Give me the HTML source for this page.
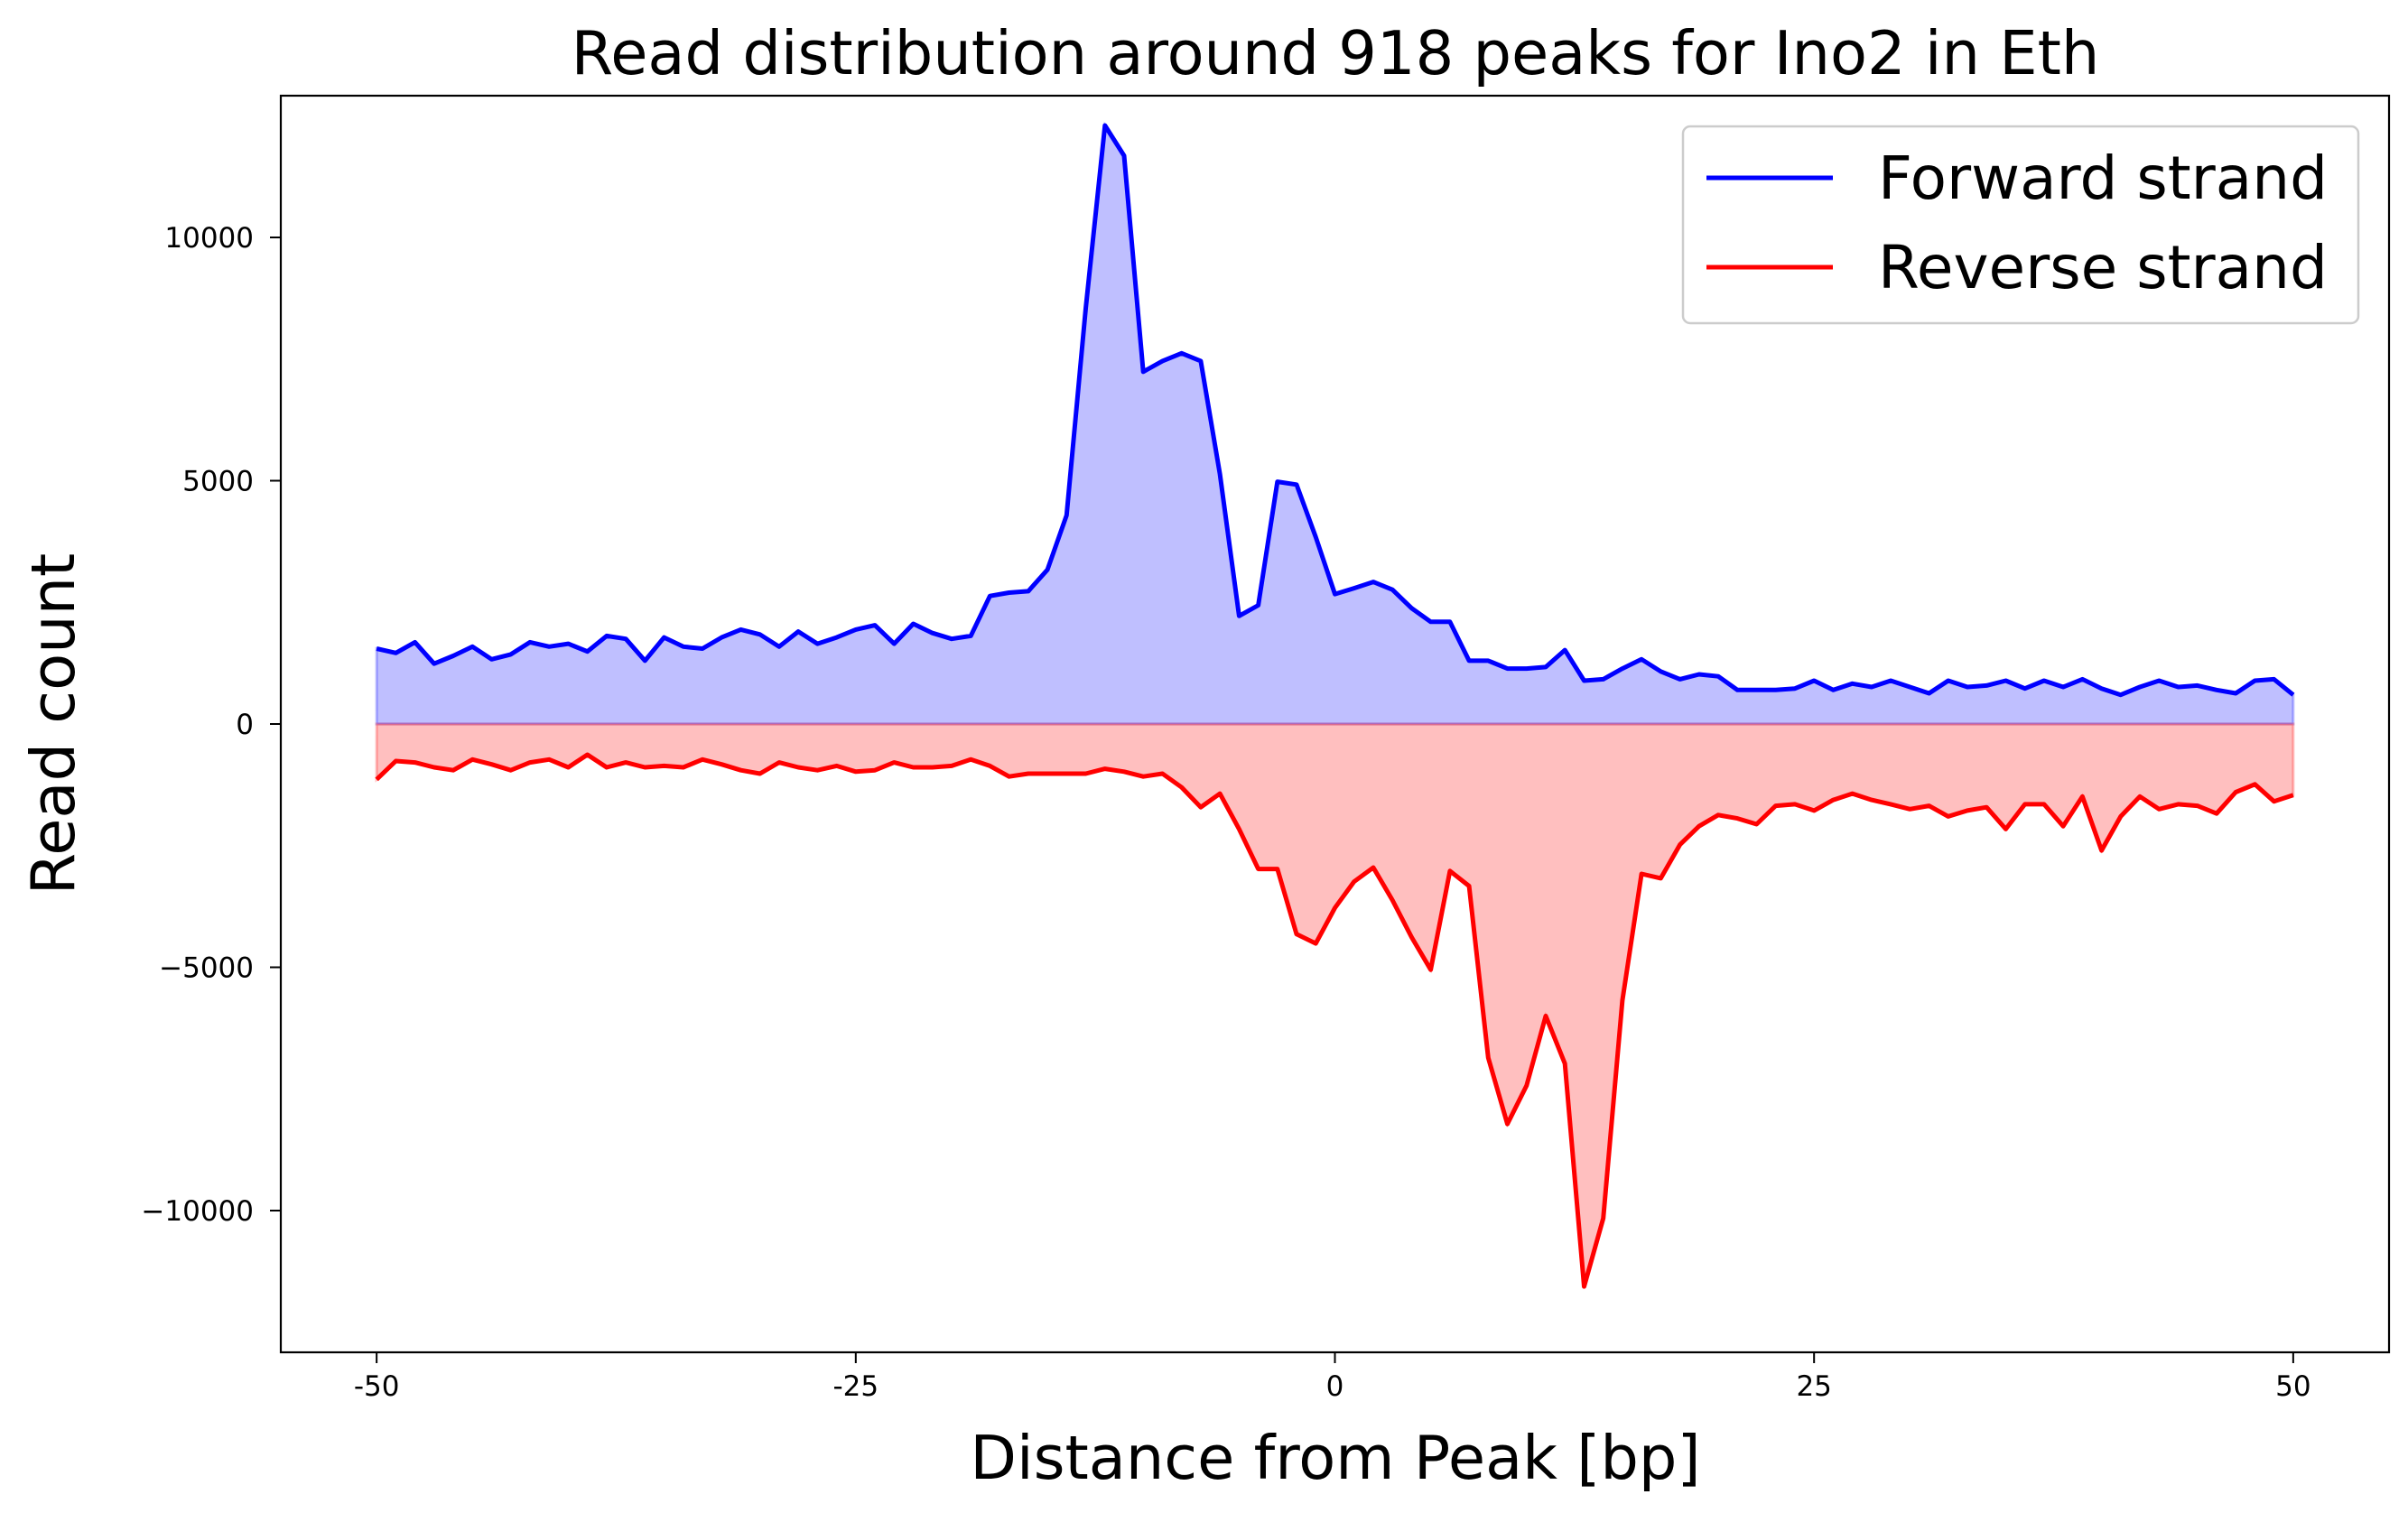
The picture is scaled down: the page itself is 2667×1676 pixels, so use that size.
<!DOCTYPE html>
<html><head><meta charset="utf-8"><style>
html,body{margin:0;padding:0;background:#fff;}
svg{display:block;font-family:"DejaVu Sans","Liberation Sans",sans-serif;}
</style></head><body>
<svg id="chart" width="2667" height="1676" viewBox="0 0 2667 1676" xmlns="http://www.w3.org/2000/svg">
<rect width="2667" height="1676" fill="#fff"/>
<text x="1479" y="82" font-size="67" text-anchor="middle" fill="#000">Read distribution around 918 peaks for Ino2 in Eth</text>
<g id="plot"></g>
<rect x="311" y="106" width="2335" height="1392" fill="none" stroke="#000" stroke-width="2.2"/>
<g id="ticks"></g>
<text x="1479" y="1638" font-size="67" text-anchor="middle">Distance from Peak [bp]</text>
<text transform="translate(82,802) rotate(-90)" font-size="67" text-anchor="middle">Read count</text>
<g>
<rect x="1864" y="140" width="748" height="218" rx="8" fill="#fff" fill-opacity="0.8" stroke="#ccc" stroke-width="2.5"/>
<line x1="1890" y1="197" x2="2030" y2="197" stroke="#0000ff" stroke-width="5"/>
<text x="2080" y="220" font-size="66">Forward strand</text>
<line x1="1890" y1="296" x2="2030" y2="296" stroke="#ff0000" stroke-width="5"/>
<text x="2080" y="319" font-size="66">Reverse strand</text>
</g>
</svg>
<script>
const positions = [-50,-49,-48,-47,-46,-45,-44,-43,-42,-41,-40,-39,-38,-37,-36,-35,-34,-33,-32,-31,-30,-29,-28,-27,-26,-25,-24,-23,-22,-21,-20,-19,-18,-17,-16,-15,-14,-13,-12,-11,-10,-9,-8,-7,-6,-5,-4,-3,-2,-1,0,1,2,3,4,5,6,7,8,9,10,11,12,13,14,15,16,17,18,19,20,21,22,23,24,25,26,27,28,29,30,31,32,33,34,35,36,37,38,39,40,41,42,43,44,45,46,47,48,49,50];
const forwardCounts = [1550,1460,1680,1240,1400,1590,1330,1430,1680,1590,1650,1490,1810,1750,1300,1780,1590,1550,1780,1940,1840,1590,1900,1650,1780,1940,2030,1650,2060,1870,1750,1810,2630,2700,2730,3170,4290,8540,12300,11680,7240,7460,7620,7460,5140,2220,2440,4980,4920,3840,2670,2790,2920,2760,2380,2100,2100,1300,1300,1140,1140,1170,1520,890,920,1140,1330,1080,920,1020,980,700,700,700,730,890,700,830,760,890,760,630,890,760,790,890,730,890,760,920,730,600,760,890,760,790,700,630,890,920,600];
const reverseCounts = [-1140,-760,-790,-890,-950,-730,-830,-950,-790,-730,-890,-630,-890,-790,-890,-860,-890,-730,-830,-950,-1020,-790,-890,-950,-860,-980,-950,-790,-890,-890,-860,-730,-860,-1080,-1020,-1020,-1020,-1020,-920,-980,-1080,-1020,-1300,-1710,-1430,-2160,-2980,-2980,-4320,-4510,-3780,-3240,-2950,-3620,-4380,-5050,-3020,-3330,-6860,-8220,-7430,-6000,-6980,-11560,-10160,-5680,-3080,-3170,-2480,-2100,-1870,-1940,-2060,-1680,-1650,-1780,-1560,-1430,-1560,-1650,-1750,-1680,-1900,-1780,-1710,-2160,-1650,-1650,-2100,-1490,-2600,-1900,-1490,-1750,-1650,-1680,-1840,-1400,-1240,-1590,-1460];
const xTicks = [-50,-25,0,25,50];
const xTickLabels = ["-50","-25","0","25","50"];
const yTicks = [-10000,-5000,0,5000,10000];
const yTickLabels = ["\u221210000","\u22125000","0","5000","10000"];

const NS="http://www.w3.org/2000/svg";
const X0=311,X1=2646,Y0=106,Y1=1498;
const xMin=-55,xMax=55,yMin=-12913,yMax=12913;
const sx=v=>X0+(v-xMin)/(xMax-xMin)*(X1-X0);
const sy=v=>Y1-(v-yMin)/(yMax-yMin)*(Y1-Y0);
function mk(tag,attrs,parent){const e=document.createElementNS(NS,tag);for(const k in attrs)e.setAttribute(k,attrs[k]);parent.appendChild(e);return e;}
const plot=document.getElementById('plot');
function series(vals,color,fill,nm){
  let pts=positions.map((p,i)=>sx(p).toFixed(1)+","+sy(vals[i]).toFixed(1));
  let area="M"+sx(positions[0])+","+sy(0)+" L"+pts.join(" L")+" L"+sx(positions[positions.length-1])+","+sy(0)+" Z";
  const a=mk('path',{d:area,fill:fill,'fill-opacity':0.25,stroke:fill,'stroke-opacity':0.25,'stroke-width':3},plot);
  
  
  const l=mk('polyline',{points:pts.join(" "),fill:'none',stroke:color,'stroke-width':5,'stroke-linejoin':'round'},plot);
  
  
}
series(forwardCounts,'#0000ff','#0000ff','forward-strand');
series(reverseCounts,'#ff0000','#ff0000','reverse-strand');
const tg=document.getElementById('ticks');
xTicks.forEach((t,i)=>{
  const l=mk('line',{x1:sx(t),x2:sx(t),y1:Y1,y2:Y1+12,stroke:'#000','stroke-width':2},tg);
  
  
  const tx=mk('text',{x:sx(t),y:Y1+48,'font-size':31,'text-anchor':'middle'},tg);
  tx.textContent=xTickLabels[i];
  
  
});
yTicks.forEach((t,i)=>{
  const l=mk('line',{x1:X0-12,x2:X0,y1:sy(t),y2:sy(t),stroke:'#000','stroke-width':2},tg);
  
  
  const tx=mk('text',{x:X0-30,y:sy(t)+11,'font-size':31,'text-anchor':'end'},tg);
  tx.textContent=yTickLabels[i];
  
  
});
</script>
</body></html>
